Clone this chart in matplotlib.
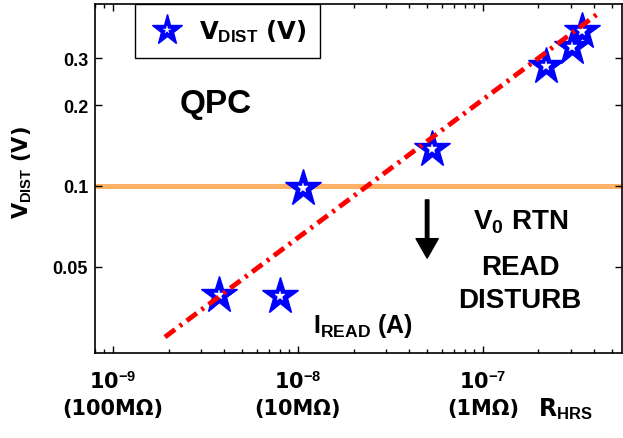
import matplotlib
matplotlib.use('Agg')
import matplotlib.pyplot as plt
from matplotlib.ticker import FixedLocator, LogLocator, NullFormatter, NullLocator
from matplotlib.legend_handler import HandlerTuple

plt.rcParams['font.family'] = 'Liberation Sans'
plt.rcParams['font.weight'] = 'bold'
plt.rcParams['axes.labelweight'] = 'bold'
plt.rcParams['mathtext.fontset'] = 'custom'
plt.rcParams['mathtext.rm'] = 'Liberation Sans:bold'
plt.rcParams['mathtext.it'] = 'Liberation Sans:bold'
plt.rcParams['mathtext.bf'] = 'Liberation Sans:bold'

# data
i_read = [3.74e-9, 8.0e-9, 1.06e-8, 5.3e-8, 2.19e-7, 3.03e-7, 3.43e-7]
v_dist = [0.0392, 0.0389, 0.0983, 0.1374, 0.2806, 0.3304, 0.3787]
fit_i = [1.91e-9, 4.24e-7]
fit_v = [0.0273, 0.442]
v_limit = 0.1
xticks = [1e-9, 1e-8, 1e-7]
xtick_labels = ['10$^{-9}$\n(100M\u03a9)', '10$^{-8}$\n(10M\u03a9)', '10$^{-7}$\n(1M\u03a9)']
yticks = [0.05, 0.1, 0.2, 0.3]
ytick_labels = ['0.05', '0.1', '0.2', '0.3']

wide = 'DejaVu Sans'

fig = plt.figure(figsize=(6.23, 4.39), dpi=100)
ax = fig.add_axes([0.1525, 0.1936, 0.8455, 0.795])

ax.axhline(v_limit, color='#ffb266', lw=3.6, zorder=1)
h_out, = ax.plot(i_read, v_dist, ls='none', marker='*', ms=28, mfc='#0000ff',
                 mec='#0000ff', mew=1, zorder=2)
h_in, = ax.plot(i_read, v_dist, ls='none', marker='*', ms=7, mfc='white',
                mec='white', mew=0.3, zorder=2.1)
ax.plot(fit_i, fit_v, color='red', lw=3.5, dashes=(2.6, 1.2, 0.6, 1.2), zorder=3)

ax.set_xscale('log')
ax.set_yscale('log')
ax.set_xlim(8.0e-10, 5.64e-7)
ax.set_ylim(0.0238, 0.4775)

ax.xaxis.set_major_locator(FixedLocator(xticks))
ax.xaxis.set_minor_locator(LogLocator(base=10, subs=range(2, 10)))
ax.xaxis.set_minor_formatter(NullFormatter())
ax.set_xticklabels(xtick_labels, fontsize=15, family=wide, linespacing=1.4)
ax.set_yticks(yticks)
ax.yaxis.set_minor_locator(NullLocator())
ax.set_yticklabels(ytick_labels, fontsize=13)

ax.tick_params(which='both', direction='in', top=True, right=True, width=1)
ax.tick_params(which='major', length=5)
ax.tick_params(which='minor', length=3)
ax.tick_params(axis='x', pad=12)
ax.tick_params(axis='y', pad=5)
for sp in ax.spines.values():
    sp.set_linewidth(1.2)

ax.set_ylabel('V$_{DIST}$ (V)', fontsize=15, family=wide, fontweight='bold')
ax.yaxis.set_label_coords(-0.115, 0.52)

leg = ax.legend([(h_out, h_in)], ['V$_{DIST}$ (V)'], handler_map={tuple: HandlerTuple(ndivide=1)},
                loc='upper left', bbox_to_anchor=(0.076, 1.0), borderaxespad=0,
                prop={'family': wide, 'size': 17.5, 'weight': 'bold'}, markerscale=0.8,
                fancybox=False, framealpha=1, edgecolor='black', handlelength=1.5,
                handletextpad=0.6, borderpad=0.55)
leg.get_frame().set_linewidth(1.0)

ax.text(0.2296, 0.716, 'QPC', transform=ax.transAxes, ha='center', va='center', fontsize=24)
ax.text(0.807, 0.358, 'V$_0$ RTN', transform=ax.transAxes, ha='center', va='baseline', fontsize=20)
ax.text(0.807, 0.226, 'READ', transform=ax.transAxes, ha='center', va='baseline', fontsize=20)
ax.text(0.807, 0.132, 'DISTURB', transform=ax.transAxes, ha='center', va='baseline', fontsize=20)
ax.text(0.4137, 0.060, 'I$_{READ}$ (A)', transform=ax.transAxes, ha='left', va='baseline', fontsize=18)

ax.annotate('', xy=(5e-8, 0.0538), xytext=(5e-8, 0.0887),
            arrowprops=dict(facecolor='black', edgecolor='black', width=2.5,
                            headwidth=16, headlength=14, shrink=0))

fig.text(0.8636, 0.0524, 'R$_{HRS}$', ha='left', va='baseline', fontsize=17, family=wide)

fig.savefig('out.png', dpi=100)
